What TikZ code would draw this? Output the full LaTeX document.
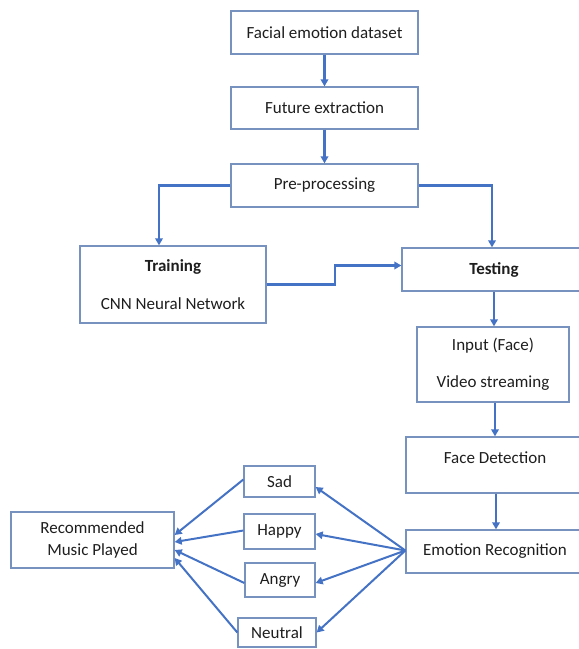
\documentclass[tikz,border=0pt]{standalone}
\usepackage{fontspec}
\setmainfont{Carlito}
\usetikzlibrary{arrows.meta}
\definecolor{linkblue}{RGB}{68,114,196}
\definecolor{boxline}{RGB}{120,146,192}
\definecolor{inktext}{RGB}{30,30,30}
\begin{document}
\begin{tikzpicture}[x=1pt,y=-1pt,
  font=\fontsize{17}{20.5}\selectfont,
  box/.style={draw=boxline,line width=1.3pt,rectangle,inner sep=0pt,
              text=inktext,align=center},
  link/.style={draw=linkblue,line width=2.2pt,
               -{Triangle[length=7pt,width=7.5pt]}},
  thin link/.style={link,line width=2pt}]
\useasboundingbox (0,0) rectangle (579,649);
\clip (0,0) rectangle (579,649);

% main pipeline
\node[box,minimum width=187pt,minimum height=43pt] (fed) at (324.5,32.5) {Facial emotion dataset};
\node[box,minimum width=187pt,minimum height=42pt] (fex) at (324.5,108) {Future extraction};
\node[box,minimum width=187pt,minimum height=43pt] (pre) at (324.5,185.5) {Pre-processing};

\node[box,minimum width=186pt,minimum height=77pt] (train) at (173,284.5)
  {\textbf{Training}\\[17.5pt]CNN Neural Network};
\node[box,minimum width=184pt,minimum height=43pt] (test) at (494,269.5) {\textbf{Testing}};

\node[box,minimum width=152pt,minimum height=75pt] (input) at (493,364.5)
  {Input (Face)\\[16.5pt]Video streaming};
\node[box,minimum width=178pt,minimum height=56pt,
      label={[text=inktext,yshift=7pt]center:Face Detection}] (fd) at (495,465) {};
\node[box,minimum width=178pt,minimum height=43pt] (er) at (495,551.5) {Emotion Recognition};

% emotion classes
\node[box,minimum width=71pt,minimum height=31pt] (sad) at (279.5,481.5) {Sad};
\node[box,minimum width=71pt,minimum height=35pt] (happy) at (279.5,531.5) {Happy};
\node[box,minimum width=70pt,minimum height=34pt] (angry) at (280,580) {Angry};
\node[box,minimum width=78pt,minimum height=29pt] (neutral) at (277,632.5) {Neutral};

\node[box,minimum width=163pt,minimum height=56pt] (rec) at (92.5,540)
  {Recommended\\[1.5pt]Music Played};

% connectors
\coordinate (jog) at (335,275);
\draw[link] (fed) -- (fex);
\draw[link] (fex) -- (pre);
\draw[link] (pre.west) -| ([xshift=-14pt]train.north);
\draw[link] (pre.east) -| ([xshift=-2pt]test.north);
\draw[link] (train.east) -| (jog) |- ([yshift=4pt]test.west);
\draw[link] (test) -- (test.south |- input.north);
\draw[link] ([xshift=2pt]input.south) -- ([xshift=2pt]input.south |- fd.north);
\draw[link] ([xshift=1pt]fd.south) -- ([xshift=1pt]fd.south |- er.north);

\draw[thin link] ([yshift=1pt]er.west) -- ([yshift=-5.5pt]sad.east);
\draw[thin link] ([yshift=1pt]er.west) -- ([yshift=-2.5pt]happy.east);
\draw[thin link] ([yshift=1pt]er.west) -- ([yshift=-3pt]angry.east);
\draw[thin link] ([yshift=1pt]er.west) -- (neutral.east);

\draw[thin link] ([yshift=2pt]sad.west) -- ([yshift=5pt]rec.east);
\draw[thin link] ([yshift=1pt]happy.west) -- ([yshift=-2pt]rec.east);
\draw[thin link] ([yshift=-3pt]angry.west) -- ([yshift=-10pt]rec.east);
\draw[thin link] (neutral.west) -- ([yshift=-18pt]rec.east);
\end{tikzpicture}
\end{document}
